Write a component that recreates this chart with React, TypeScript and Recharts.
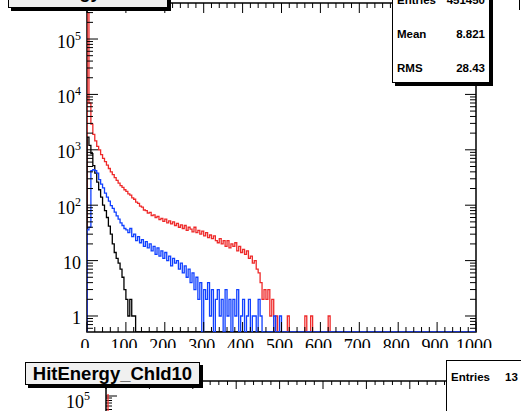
import React from 'react';
import { LineChart, Line, XAxis, YAxis, ReferenceArea } from 'recharts';

// ---- data (bin width 5 in x units, counts per bin, starting at x = 0) ----
const BIN_WIDTH = 5;
const X_MIN = 0;
const X_MAX = 1000;
const Y_MIN = 0.514;
const Y_MAX = 447000;

const redCounts = [
  300000, 7000, 2900, 1900, 1450, 1150, 1000, 820, 700, 610,
  530, 460, 400, 355, 315, 280, 250, 225, 210, 190,
  178, 160, 152, 136, 128, 114, 108, 96, 92, 82,
  80, 72, 74, 65, 67, 60, 63, 55, 58, 51,
  56, 48, 52, 46, 50, 43, 47, 40, 44, 38,
  43, 35, 40, 37, 33, 40, 32, 35, 30, 34,
  28, 32, 26, 29, 25, 28, 23, 21, 25, 20,
  23, 18, 23, 17, 20, 18, 21, 15, 18, 14,
  16, 13, 15, 11, 12, 9, 10, 7, 6, 4,
  2, 3, 2, 3, 1, 2, 0, 1, 0, 0,
  0, 0, 0, 1, 0, 0, 0, 0, 0, 0,
  0, 0, 1, 0, 0, 1, 0, 0, 0, 0,
  0, 0, 0, 0, 1,
];

const blueCounts = [
  36, 40, 420, 440, 420, 380, 290, 240, 205, 165,
  140, 118, 98, 88, 75, 64, 56, 48, 43, 38,
  36, 32, 38, 27, 30, 23, 27, 21, 24, 18,
  22, 17, 20, 15, 18, 13, 17, 12, 15, 11,
  14, 10, 12, 8, 11, 9, 10, 7, 9, 6,
  8, 5, 7, 4, 6, 3, 5, 2, 4, 0,
  3, 2, 4, 1, 3, 0, 2, 3, 1, 2,
  0, 3, 1, 2, 0, 2, 1, 3, 0, 1,
  2, 0, 1, 2, 0, 1, 1, 0, 2, 1,
  0, 0, 0, 0, 0, 0, 1, 0, 0, 1,
];

const blackCounts = [
  1700, 1200, 850, 520, 380, 260, 190, 140, 100, 80,
  60, 42, 30, 20, 14, 11, 9, 7, 5, 3,
  2, 1, 2, 1, 1,
];

const xTickLabels = ['0', '100', '200', '300', '400', '500', '600', '700', '800', '900', '1000'];
const yDecades = [1, 10, 100, 1000, 10000, 100000];

const statsRows = [
  { label: 'Entries', value: '451450' },
  { label: 'Mean', value: '8.821' },
  { label: 'RMS', value: '28.43' },
];

// ---- table for the chart ----
const nBins = Math.max(redCounts.length, blueCounts.length, blackCounts.length);
const lv = (arr: number[], i: number) => (arr[i] && arr[i] > 0 ? arr[i] : Y_MIN);
const rows: { x: number; red: number; blue: number; black: number }[] = [
  { x: X_MIN, red: Y_MIN, blue: Y_MIN, black: Y_MIN },
];
for (let i = 0; i <= nBins; i++) {
  rows.push({ x: i * BIN_WIDTH, red: lv(redCounts, i), blue: lv(blueCounts, i), black: lv(blackCounts, i) });
}
rows.push({ x: X_MAX, red: Y_MIN, blue: Y_MIN, black: Y_MIN });

const xTicks: number[] = [];
for (let v = X_MIN; v <= X_MAX; v += 20) xTicks.push(v);
const yTicks: number[] = [];
for (let e = -1; e <= 5; e++) {
  for (let m = 1; m <= 9; m++) {
    const v = m * Math.pow(10, e);
    if (v >= Y_MIN && v <= Y_MAX) yTicks.push(v);
  }
}

// ---- layout ----
const W = 521;
const H = 411;
const PL = 87;
const PR = 476;
const PT = 3;
const PB = 332;

const YTick = (props: any) => {
  const { y, payload } = props;
  const v = payload.value;
  const e = Math.round(Math.log10(v));
  const major = Math.abs(Math.log10(v) - e) < 1e-6 && yDecades.includes(Math.pow(10, e));
  const len = major ? 11 : 6;
  return (
    <g>
      <line x1={PL} x2={PL + len} y1={y} y2={y} stroke="#000" strokeWidth={1} />
      <line x1={PR} x2={PR - len} y1={y} y2={y} stroke="#000" strokeWidth={1} />
      {major && (
        <text x={PL - 6} y={y + 8.5} textAnchor="end" fontFamily="Liberation Serif" fontSize={18} fill="#000">
          {e === 0 ? '1' : '10'}
          {e >= 2 && (
            <tspan dy={-8} fontSize={12}>
              {String(e)}
            </tspan>
          )}
        </text>
      )}
    </g>
  );
};

const XTick = (props: any) => {
  const { x, payload } = props;
  const v = payload.value;
  const major = v % 100 === 0;
  const len = major ? 10 : 5;
  const label = xTickLabels[v / 100];
  return (
    <g>
      <line x1={x} x2={x} y1={PB} y2={PB - len} stroke="#000" strokeWidth={1} />
      <line x1={x} x2={x} y1={PT} y2={PT + len} stroke="#000" strokeWidth={1} />
      {major && (
        <text x={x - 2} y={351.5} textAnchor="middle" fontFamily="Liberation Serif" fontSize={18} fill="#000">
          {label}
        </text>
      )}
    </g>
  );
};

const sans = '"Liberation Sans", Arial, sans-serif';

const Txt = ({ left, right, cy, size, bold, children }: any) => (
  <div
    style={{
      position: 'absolute',
      left: left !== undefined ? left : undefined,
      right: right !== undefined ? W - right : undefined,
      top: cy - size * 0.6,
      lineHeight: `${size * 1.2}px`,
      fontSize: size,
      fontFamily: sans,
      fontWeight: bold ? 700 : 400,
      whiteSpace: 'nowrap',
      color: '#000',
    }}
  >
    {children}
  </div>
);

const lowerTicks: number[] = [];
for (let k = 0; k <= 40; k++) lowerTicks.push(k);

export default function App() {
  return (
    <div style={{ position: 'absolute', left: 0, top: 0, width: W, height: H, background: '#fff', overflow: 'hidden' }}>
      <LineChart width={W} height={H} data={rows} margin={{ top: PT, right: W - PR, bottom: 49, left: 27 }}>
        <XAxis
          dataKey="x"
          type="number"
          domain={[X_MIN, X_MAX]}
          ticks={xTicks}
          interval={0}
          tick={<XTick />}
          tickLine={false}
          axisLine={false}
          height={30}
          allowDataOverflow
        />
        <YAxis
          type="number"
          scale="log"
          domain={[Y_MIN, Y_MAX]}
          ticks={yTicks}
          interval={0}
          tick={<YTick />}
          tickLine={false}
          axisLine={false}
          width={60}
          allowDataOverflow
        />
        <Line dataKey="red" type="stepAfter" stroke="#ee2a2a" strokeWidth={1.3} dot={false} isAnimationActive={false} />
        <Line dataKey="black" type="stepAfter" stroke="#000" strokeWidth={1.3} dot={false} isAnimationActive={false} />
        <Line dataKey="blue" type="stepAfter" stroke="#1040ff" strokeWidth={1.3} dot={false} isAnimationActive={false} />
        <ReferenceArea x1={X_MIN} x2={X_MAX} y1={Y_MIN} y2={Y_MAX} stroke="#000" strokeWidth={1.5} fill="none" fillOpacity={0} />
      </LineChart>

      {/* upper title box */}
      <div style={{ position: 'absolute', left: 8, top: -30, width: 158, height: 36, border: '1px solid #000', background: '#f0f0f0', boxShadow: '3px 3px 0 #000' }} />
      <div style={{ position: 'absolute', left: 8, width: 160, top: -19, lineHeight: '22px', textAlign: 'center', fontFamily: sans, fontWeight: 700, fontSize: 18.5 }}>
        HitEnergy_ChId9
      </div>

      {/* upper stats box */}
      <div style={{ position: 'absolute', left: 392, top: -20, width: 96, height: 101, border: '1px solid #000', background: '#fff', boxShadow: '3px 3px 0 #000' }} />
      {statsRows.map((r, i) => (
        <React.Fragment key={r.label}>
          <Txt left={397} cy={1 + i * 34} size={11.5} bold>
            {r.label}
          </Txt>
          <Txt right={485} cy={1 + i * 34} size={11.5} bold>
            {r.value}
          </Txt>
        </React.Fragment>
      ))}
      <div style={{ position: 'absolute', left: 518.5, top: 0, width: 1.5, height: 10, background: '#000' }} />

      {/* lower pad (neighbouring histogram) */}
      <div style={{ position: 'absolute', left: 0, top: 347.5, width: W, height: H - 347.5, background: '#fff' }} />
      <svg style={{ position: 'absolute', left: 0, top: 0 }} width={W} height={H}>
        <line x1={106} x2={446} y1={381} y2={381} stroke="#000" strokeWidth={1.5} />
        <line x1={106} x2={106} y1={381} y2={H} stroke="#000" strokeWidth={1.5} />
        {lowerTicks.map((k) => {
          const x = 106 + k * 8.68;
          if (x > 446) return null;
          return <line key={k} x1={x} x2={x} y1={381} y2={381 + (k % 5 === 0 ? 8 : 4)} stroke="#000" strokeWidth={1} />;
        })}
        {[0, 2, 4.5, 7, 10, 13.5].map((d, i) => (
          <line key={i} x1={106} x2={106 + (i === 0 ? 11 : 6)} y1={396 + d} y2={396 + d} stroke="#000" strokeWidth={1} />
        ))}
        <line x1={108} x2={108} y1={394} y2={H} stroke="#ee2a2a" strokeWidth={1.3} />
        <text x={90} y={408} textAnchor="end" fontFamily="Liberation Serif" fontSize={18} fill="#000">
          10
          <tspan dy={-8} fontSize={12}>
            5
          </tspan>
        </text>
      </svg>
      <div style={{ position: 'absolute', left: 25, top: 362, width: 173, height: 21, border: '1px solid #000', background: '#f0f0f0', boxShadow: '3px 3px 0 #000' }} />
      <div style={{ position: 'absolute', left: 25, width: 175, top: 362, lineHeight: '23px', textAlign: 'center', fontFamily: sans, fontWeight: 700, fontSize: 18.5 }}>
        HitEnergy_ChId10
      </div>
      <div style={{ position: 'absolute', left: 446, top: 360, width: 100, height: 80, border: '1px solid #000', background: '#fff' }} />
      <Txt left={451} cy={378} size={11.5} bold>
        Entries
      </Txt>
      <Txt left={505} cy={378} size={11.5} bold>
        13
      </Txt>
    </div>
  );
}
